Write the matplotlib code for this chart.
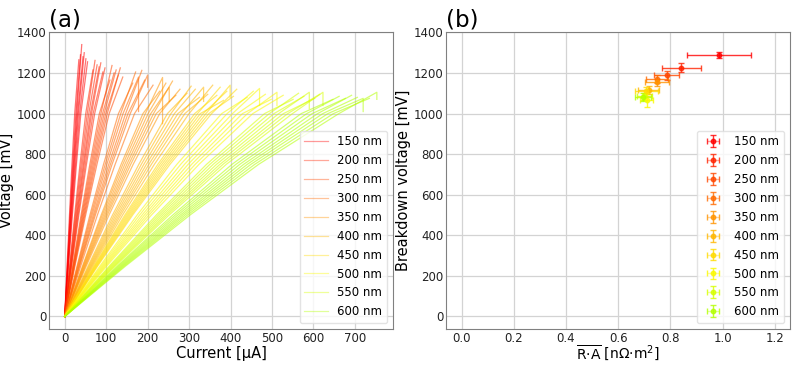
import numpy as np
import matplotlib
matplotlib.use('Agg')
import matplotlib.pyplot as plt

# ---- panel (a): I-V sweeps, voltage levels shared by all curves ----
V_LEVELS = [0, 250, 500, 750, 1000]
# each curve: [I@250, I@500, I@750, I@1000, I_end, V_end, (V after drop)]
widths = ['150 nm', '200 nm', '250 nm', '300 nm', '350 nm',
          '400 nm', '450 nm', '500 nm', '550 nm', '600 nm']

iv_150 = [[5.6, 11.4, 17.4, 24.0, 34, 1265],
          [6.3, 12.7, 19.5, 26.8, 38, 1290],
          [6.8, 13.7, 21.0, 28.9, 41, 1340],
          [7.3, 14.7, 22.5, 31.0, 44, 1280],
          [7.8, 15.7, 24.1, 33.1, 47, 1300],
          [8.4, 17.0, 26.1, 36.0, 51, 1270],
          [9.1, 18.4, 28.2, 38.8, 55, 1255]]
iv_200 = [[11.8, 23.9, 36.7, 50.6, 68, 1215],
          [12.6, 25.6, 39.4, 54.3, 73, 1262],
          [13.5, 27.4, 42.1, 58.0, 78, 1240],
          [14.4, 29.1, 44.8, 61.8, 83, 1230],
          [15.1, 30.5, 47.0, 64.7, 87, 1250],
          [15.9, 32.3, 49.7, 68.4, 92, 1205],
          [16.8, 34.0, 52.4, 72.2, 97, 1225]]
iv_250 = [[19.3, 39.3, 60.5, 83.5, 109, 1165],
          [20.2, 41.2, 63.3, 87.3, 114, 1237],
          [21.1, 43.0, 66.0, 91.2, 119, 1200],
          [21.9, 44.8, 68.8, 95.0, 124, 1215],
          [22.8, 46.6, 71.6, 98.8, 129, 1190],
          [23.7, 48.4, 74.4, 102.6, 134, 1225],
          [24.8, 50.5, 77.7, 107.2, 140, 1180]]
iv_300 = [[29.8, 60.7, 93.6, 129.6, 164, 1150],
          [31.1, 63.3, 97.6, 135.1, 171, 1205],
          [32.4, 65.9, 101.6, 140.6, 178, 1180, 1010],
          [33.9, 68.8, 106.2, 146.9, 186, 1213],
          [35.1, 71.4, 110.2, 152.5, 193, 1165],
          [36.4, 74.0, 114.2, 158.0, 200, 1190, 1130],
          [38.8, 78.8, 121.6, 168.3, 213, 1140]]
iv_350 = [[43.1, 87.9, 136.0, 188.7, 229, 1110],
          [44.4, 90.6, 140.2, 194.5, 236, 1178, 950],
          [45.9, 93.7, 144.9, 201.1, 244, 1150],
          [47.4, 96.8, 149.7, 207.6, 252, 1130, 1060],
          [48.9, 99.8, 154.4, 214.2, 260, 1160],
          [50.4, 102.9, 159.2, 220.8, 268, 1090],
          [52.3, 106.8, 165.1, 229.1, 278, 1120]]
iv_400 = [[56.6, 115.3, 178.8, 247.8, 295, 1100],
          [58.6, 119.3, 184.8, 256.2, 305, 1135],
          [60.5, 123.2, 190.9, 264.6, 315, 1120],
          [62.4, 127.1, 197.0, 273.0, 325, 1080],
          [64.3, 131.0, 203.0, 281.4, 335, 1130, 1060],
          [66.2, 134.9, 209.1, 289.8, 345, 1095],
          [68.5, 139.6, 216.3, 299.9, 357, 1140]]
iv_450 = [[70.8, 145.0, 224.6, 313.4, 367, 1090],
          [72.4, 148.1, 229.5, 320.3, 375, 1130],
          [73.9, 151.3, 234.4, 327.1, 383, 1065],
          [75.5, 154.4, 239.3, 333.9, 391, 1110],
          [77.0, 157.6, 244.2, 340.7, 399, 1140, 1080],
          [78.6, 160.8, 249.1, 347.6, 407, 1085],
          [80.1, 163.9, 254.0, 354.4, 415, 1120]]
iv_500 = [[85.4, 174.7, 270.6, 378.8, 440, 1080],
          [88.3, 180.6, 279.8, 391.8, 455, 1110],
          [91.2, 186.6, 289.1, 404.7, 470, 1124, 1040],
          [93.9, 192.1, 297.7, 416.7, 484, 1095],
          [96.6, 197.7, 306.3, 428.8, 498, 1070],
          [99.3, 203.3, 314.9, 440.8, 512, 1105, 1040],
          [102.2, 209.2, 324.1, 453.7, 527, 1090]]
iv_550 = [[108.0, 221.0, 342.2, 482.1, 551, 1070],
          [110.5, 226.2, 350.2, 493.5, 564, 1100],
          [113.1, 231.4, 358.3, 504.9, 577, 1085],
          [115.6, 236.6, 366.4, 516.3, 590, 1105, 1025],
          [118.2, 241.8, 374.5, 527.6, 603, 1075],
          [120.5, 246.6, 381.9, 538.1, 615, 1095],
          [123.1, 251.8, 390.0, 549.5, 623, 1105, 1040]]
iv_600 = [[127.5, 260.7, 403.7, 570.7, 647, 1070],
          [130.4, 266.8, 413.1, 583.9, 662, 1085],
          [133.4, 272.8, 422.4, 597.1, 677, 1075],
          [136.3, 278.9, 431.8, 610.3, 692, 1090],
          [139.1, 284.5, 440.5, 622.7, 706, 1080],
          [141.8, 290.2, 449.3, 635.0, 720, 1075, 1010],
          [144.8, 296.2, 458.6, 648.3, 735, 1075],
          [147.8, 302.3, 468.0, 661.5, 753, 1105, 1070]]
iv_groups = [iv_150, iv_200, iv_250, iv_300, iv_350,
             iv_400, iv_450, iv_500, iv_550, iv_600]

# ---- panel (b): breakdown voltage vs mean R*A ----
ra_mean = [0.987, 0.842, 0.785, 0.749, 0.749, 0.716, 0.708, 0.710, 0.700, 0.695]
ra_err = [0.123, 0.076, 0.048, 0.042, 0.045, 0.040, 0.045, 0.025, 0.030, 0.030]
vbd_mean = [1288, 1226, 1188, 1170, 1154, 1117, 1110, 1068, 1085, 1082]
vbd_err = [15, 23, 22, 18, 18, 20, 22, 35, 18, 18]


def run():
    plt.rcParams['font.family'] = 'DejaVu Sans'
    fig = plt.figure(figsize=(7.93, 3.65), dpi=100)
    ax1 = fig.add_axes([0.0618, 0.0986, 0.4338, 0.8137])
    ax2 = fig.add_axes([0.5624, 0.0986, 0.4338, 0.8137])

    colors = plt.cm.hsv(np.linspace(0, 0.22, len(widths)))

    for k, group in enumerate(iv_groups):
        for j, c in enumerate(group):
            cur = [0] + c[:5]
            vol = V_LEVELS + [c[5]]
            if len(c) > 6:
                cur = cur + [c[4]]
                vol = vol + [c[6]]
            ax1.plot(cur, vol, color=colors[k], alpha=0.55, lw=0.9,
                     label=widths[k] if j == 0 else None)

    for k in range(len(widths)):
        ax2.errorbar(ra_mean[k], vbd_mean[k], xerr=ra_err[k], yerr=vbd_err[k],
                     fmt='o', ms=3.2, color=colors[k], alpha=0.8,
                     elinewidth=1, capsize=2, label=widths[k])

    for ax in (ax1, ax2):
        ax.set_ylim(-62, 1402)
        ax.set_yticks(np.arange(0, 1401, 200))
        ax.grid(True, color='#d3d3d3', lw=0.9)
        ax.set_axisbelow(True)
        for s in ax.spines.values():
            s.set_color('#808080')
        ax.tick_params(labelsize=8.5, labelcolor='#222222', length=0, pad=2)
        leg = ax.legend(loc='lower right', fontsize=8.5, framealpha=0.8,
                        edgecolor='#dddddd')
        for h in leg.legend_handles:
            h.set_alpha(0.4)

    ax1.set_xlim(-38, 792)
    ax1.set_xticks(np.arange(0, 701, 100))
    ax2.set_xlim(-0.06, 1.258)
    ax2.set_xticks(np.arange(0, 1.21, 0.2))

    ax1.set_xlabel('Current [µA]', fontsize=10.5, labelpad=1)
    ax1.set_ylabel('Voltage [mV]', fontsize=10.5, labelpad=2)
    ax2.set_xlabel(r'$\overline{\mathrm{R{\cdot}A}}$ [nΩ·m$^2$]', fontsize=10)
    ax2.xaxis.set_label_coords(0.5, -0.05)
    ax2.set_ylabel('Breakdown voltage [mV]', fontsize=10.5, labelpad=2)
    ax1.set_title('(a)', loc='left', fontsize=16.5, pad=4)
    ax2.set_title('(b)', loc='left', fontsize=16.5, pad=4)

    fig.savefig('out.png', dpi=100)


if __name__ == '__main__':
    run()
